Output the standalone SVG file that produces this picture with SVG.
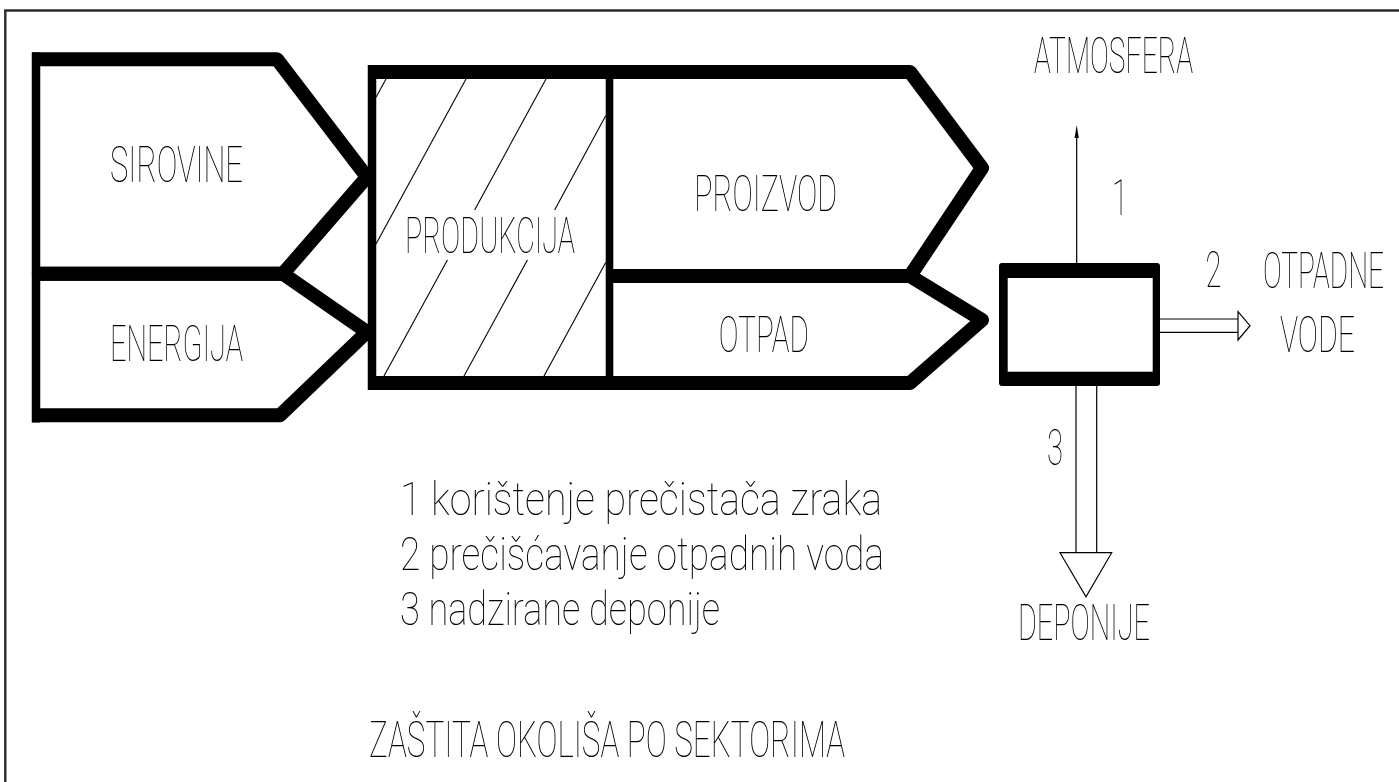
<svg xmlns="http://www.w3.org/2000/svg" width="1399" height="782" viewBox="0 0 1399 782">
<defs>
<filter id="gray" x="-5%" y="-20%" width="110%" height="140%"><feOffset dx="0" dy="0"/></filter>
</defs>
<style>
.bg{fill:#ffffff}
.frame{fill:none;stroke:#2a2a2a;stroke-width:2.4}
.band{fill:none;stroke:#000;stroke-width:14;stroke-linejoin:round;stroke-linecap:butt}
.side{fill:none;stroke:#000;stroke-width:8.5;stroke-linecap:butt}
.div{fill:none;stroke:#000;stroke-width:7.6;stroke-linecap:butt}
.hatch{fill:none;stroke:#000;stroke-width:1.1}
.thin{fill:none;stroke:#000;stroke-width:1.2}
.head{fill:#fff;stroke:#000;stroke-width:1.2;stroke-linejoin:miter}
text{filter:url(#gray)}
.t{font-family:Roboto,"Liberation Sans",sans-serif;font-weight:100;font-size:50px;fill:#000}
.s{font-family:Roboto,"Liberation Sans",sans-serif;font-weight:100;font-size:46px;fill:#000}
</style>
<rect class="bg" x="0" y="0" width="1399" height="782"/>
<path id="frame" class="frame" d="M5.3,790 V10.5 H1405"/>

<g id="sirovine">
  <path class="band" d="M32,59.3 H277 L367,177 L283,273.7 H32"/>
  <line class="side" x1="36" y1="52.5" x2="36" y2="274"/>
  <text class="t" x="110" y="181.7" textLength="133" lengthAdjust="spacingAndGlyphs">SIROVINE</text>
</g>

<g id="energija">
  <path class="band" d="M32,273.7 H283 L367,332 L280,415.3 H32"/>
  <line class="side" x1="36" y1="273" x2="36" y2="422.5"/>
  <text class="t" x="110" y="361" textLength="133" lengthAdjust="spacingAndGlyphs">ENERGIJA</text>
</g>

<g id="produkcija">
  <line class="side" x1="372" y1="65" x2="372" y2="390"/>
  <line class="band" x1="368" y1="72" x2="610" y2="72"/>
  <line class="band" x1="368" y1="383" x2="610" y2="383"/>
  <line class="div" x1="609.5" y1="65" x2="609.5" y2="390"/>
  <g class="hatch">
    <line x1="376" y1="97.3" x2="386" y2="79"/>
    <line x1="466" y1="79" x2="376" y2="244"/>
    <line x1="546" y1="79" x2="474.6" y2="210"/>
    <line x1="447.4" y1="260" x2="384" y2="376"/>
    <line x1="605.7" y1="115.7" x2="554.6" y2="210"/>
    <line x1="527.4" y1="260" x2="464" y2="376"/>
    <line x1="605.7" y1="262.5" x2="544" y2="376"/>
  </g>
  <text class="t" x="405" y="253.3" textLength="170" lengthAdjust="spacingAndGlyphs">PRODUKCIJA</text>
</g>

<g id="proizvod">
  <path class="band" d="M609.5,72 H910 L982,168 L910,276 H609.5"/>
  <text class="t" x="694.3" y="210.7" textLength="143" lengthAdjust="spacingAndGlyphs">PROIZVOD</text>
</g>

<g id="otpad">
  <path class="band" d="M609.5,276 H910 L982,320 L910,383 H609.5"/>
  <text class="t" x="718.8" y="351.7" textLength="90" lengthAdjust="spacingAndGlyphs">OTPAD</text>
</g>

<g id="treatment">
  <rect x="999" y="263" width="161" height="123" rx="3" fill="#000"/>
  <rect x="1007.7" y="278" width="145" height="93.7" fill="#fff"/>
</g>

<g id="connectors">
  <line class="thin" x1="1076.7" y1="263" x2="1076.7" y2="134"/>
  <polygon points="1076.7,125 1078.8,138 1074.6,138" fill="#000"/>
  <line class="thin" x1="1160" y1="319" x2="1238" y2="319"/>
  <line class="thin" x1="1160" y1="332.3" x2="1238" y2="332.3"/>
  <polygon class="head" points="1238,311.7 1250,325.7 1238,340"/>
  <line class="thin" x1="1076" y1="386" x2="1076" y2="552.7"/>
  <line class="thin" x1="1096.7" y1="386" x2="1096.7" y2="552.7"/>
  <polygon class="head" points="1060,552.7 1111.7,552.7 1086,596.7"/>
  <text class="t" x="1120" y="215" text-anchor="middle" textLength="16" lengthAdjust="spacingAndGlyphs">1</text>
  <text class="t" x="1213.5" y="287" text-anchor="middle" textLength="16" lengthAdjust="spacingAndGlyphs">2</text>
  <text class="t" x="1055" y="465" text-anchor="middle" textLength="16" lengthAdjust="spacingAndGlyphs">3</text>
</g>

<g id="atmosfera">
  <text class="t" x="1034" y="72.7" textLength="159" lengthAdjust="spacingAndGlyphs">ATMOSFERA</text>
</g>

<g id="otpadne-vode">
  <text class="t" transform="matrix(0.6 0 0 1 1263 288)" x="0" y="0" textLength="201.7" lengthAdjust="spacingAndGlyphs">OTPADNE</text>
  <text class="t" transform="matrix(0.6 0 0 1 1280 352)" x="0" y="0" textLength="125" lengthAdjust="spacingAndGlyphs">VODE</text>
</g>

<g id="deponije">
  <text class="t" x="1018" y="640" textLength="132" lengthAdjust="spacingAndGlyphs">DEPONIJE</text>
</g>

<g id="legend">
  <text class="s" x="400" y="515" textLength="482" lengthAdjust="spacingAndGlyphs">1 korištenje prečistača zraka</text>
  <text class="s" x="400" y="570" textLength="484" lengthAdjust="spacingAndGlyphs">2 prečišćavanje otpadnih voda</text>
  <text class="s" x="400" y="625" textLength="320" lengthAdjust="spacingAndGlyphs">3 nadzirane deponije</text>
</g>

<g id="title">
  <text class="t" x="369" y="756.7" textLength="476" lengthAdjust="spacingAndGlyphs">ZAŠTITA OKOLIŠA PO SEKTORIMA</text>
</g>
</svg>
